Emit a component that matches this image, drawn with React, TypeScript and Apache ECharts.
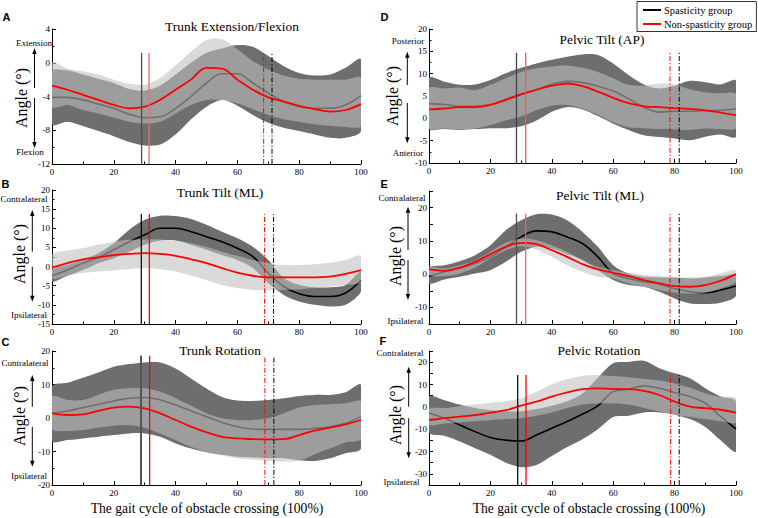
import React, { useEffect, useRef } from "react";
import * as echarts from "echarts";

// ---------------- data ----------------
const gaitPct = [0, 5, 10, 15, 20, 25, 30, 35, 40, 45, 50, 55, 60, 65, 70, 75, 80, 85, 90, 95, 100];

// A – Trunk Extension/Flexion
const A_spasMean = [-4.1, -4.1, -4.4, -4.9, -5.4, -6.1, -6.5, -6.4, -5.4, -4.0, -2.4, -1.3, -1.3, -2.4, -3.6, -4.6, -5.2, -5.4, -5.4, -5.0, -3.9];
const A_spasUp = [-1.0, -0.9, -1.4, -1.9, -2.4, -3.1, -3.3, -2.7, -1.4, 0.0, 1.2, 1.7, 2.1, 1.9, 0.8, -0.4, -1.2, -1.5, -1.4, -0.6, 0.4];
const A_spasLo = [-7.3, -7.0, -7.5, -8.1, -8.7, -9.4, -9.8, -9.7, -8.5, -6.7, -5.2, -4.4, -5.1, -6.2, -7.1, -7.7, -8.1, -8.5, -8.9, -8.9, -8.1];
const A_nonMean = [-2.7, -3.2, -3.8, -4.4, -5.0, -5.4, -5.2, -4.4, -3.2, -2.0, -0.6, -0.7, -2.0, -3.2, -4.1, -4.6, -5.1, -5.5, -5.8, -5.6, -4.9];
const A_nonUp = [0.0, -0.7, -1.0, -1.4, -2.0, -2.5, -2.6, -1.8, -0.3, 1.3, 2.7, 2.8, 1.6, 0.2, -0.8, -1.5, -1.9, -2.0, -2.0, -2.0, -1.8];
const A_nonLo = [-5.2, -5.0, -5.6, -6.0, -6.5, -7.0, -7.2, -7.0, -6.0, -5.0, -4.4, -4.4, -4.8, -5.5, -6.2, -6.7, -7.0, -7.3, -7.5, -7.6, -7.5];
const A_events = [29.0, 31.4, 68.5, 71.2];
const A_eventTop = 1.2;

// B – Trunk Tilt (ML)
const B_spasMean = [-2.4, -0.9, 0.9, 2.4, 4.4, 6.5, 8.3, 10.0, 10.0, 9.1, 7.8, 6.5, 4.8, 2.6, -1.7, -5.2, -7.1, -7.8, -7.8, -6.9, -3.5];
const B_spasUp = [-0.9, 0.4, 1.8, 3.5, 6.1, 9.6, 12.2, 13.3, 13.2, 12.4, 10.9, 9.1, 7.4, 5.2, 1.7, -3.0, -4.8, -5.4, -5.4, -4.8, -1.3];
const B_spasLo = [-3.9, -2.4, -0.9, 0.9, 2.2, 3.9, 5.7, 6.8, 6.8, 5.7, 4.4, 3.0, 1.7, -0.4, -4.3, -7.4, -9.1, -10.0, -10.4, -10.0, -6.5];
const B_nonMean = [-0.3, 0.9, 1.9, 2.4, 3.0, 3.3, 3.5, 3.3, 2.8, 1.9, 0.9, -0.4, -1.6, -2.4, -2.8, -2.8, -2.8, -2.8, -2.6, -1.9, -0.9];
const B_nonUp = [3.1, 4.2, 4.8, 5.7, 6.5, 7.0, 7.1, 7.1, 6.8, 6.1, 5.1, 3.9, 2.8, 1.7, 0.9, 0.4, 0.4, 0.6, 1.0, 1.7, 2.8];
const B_nonLo = [-3.0, -2.4, -1.7, -1.3, -1.0, -0.7, -0.4, -0.7, -1.3, -2.4, -3.5, -4.8, -5.6, -6.1, -6.2, -6.1, -5.9, -5.6, -5.2, -4.8, -3.9];
const B_events = [28.9, 31.5, 68.8, 71.7];
const B_eventTop = 13.7;

// C – Trunk Rotation
const C_spasMean = [1.4, 2.1, 3.1, 4.1, 5.1, 5.9, 6.1, 5.4, 3.9, 2.1, 0.4, -1.3, -2.6, -3.3, -3.4, -3.4, -3.4, -3.1, -2.6, -1.6, 0.4];
const C_spasUp = [9.4, 10.5, 12.0, 13.6, 15.3, 16.1, 16.6, 16.6, 14.8, 11.8, 8.8, 6.3, 5.2, 5.1, 5.4, 5.9, 6.6, 6.9, 6.9, 7.7, 9.9];
const C_spasLo = [-6.9, -6.6, -6.1, -5.6, -5.1, -4.6, -4.6, -5.6, -7.6, -9.1, -10.2, -11.0, -11.6, -11.8, -12.0, -12.0, -12.6, -12.8, -12.0, -10.5, -9.1];
const C_nonMean = [1.4, 0.9, 1.1, 2.1, 3.1, 3.4, 2.9, 1.4, -0.6, -2.6, -4.3, -5.6, -6.1, -6.3, -6.4, -6.3, -5.1, -3.8, -2.9, -1.9, -0.6];
const C_nonUp = [6.4, 5.4, 5.4, 6.9, 8.4, 8.9, 8.9, 7.9, 5.9, 3.7, 1.4, -0.1, -0.6, -0.6, -0.1, 1.4, 3.1, 3.9, 4.1, 4.4, 4.9];
const C_nonLo = [-3.3, -3.9, -3.6, -2.9, -2.3, -2.1, -2.9, -4.6, -6.6, -8.6, -10.2, -11.2, -12.0, -12.4, -12.8, -13.0, -12.8, -10.8, -9.1, -7.3, -6.3];
const C_events = [28.8, 31.6, 68.9, 71.8];
const C_eventTop = 18.6;

// D – Pelvic Tilt (AP)
const D_spasMean = [3.3, 3.1, 2.7, 2.7, 3.1, 4.0, 5.3, 6.4, 7.6, 8.3, 8.0, 7.2, 6.1, 4.4, 2.5, 1.4, 1.6, 1.6, 1.7, 1.8, 2.1];
const D_spasUp = [9.0, 8.2, 7.5, 7.6, 8.6, 10.1, 11.3, 12.3, 13.1, 13.8, 14.3, 14.2, 12.3, 9.7, 7.6, 6.7, 7.3, 8.4, 8.1, 7.6, 8.4];
const D_spasLo = [-2.3, -2.4, -2.6, -2.4, -2.2, -2.2, -1.8, -0.5, 1.5, 2.5, 2.0, 0.5, -1.2, -2.6, -3.8, -4.2, -4.5, -4.9, -4.1, -3.6, -4.1];
const D_nonMean = [2.0, 2.2, 2.5, 2.5, 3.0, 4.2, 5.4, 6.4, 7.3, 7.8, 7.2, 6.0, 4.6, 3.4, 2.7, 2.5, 2.3, 2.1, 1.8, 1.3, 0.7];
const D_nonUp = [6.7, 6.7, 6.9, 6.3, 7.5, 9.0, 10.4, 11.2, 11.6, 11.8, 11.3, 10.4, 9.0, 7.5, 7.3, 7.8, 7.6, 6.5, 5.8, 5.6, 5.4];
const D_nonLo = [-2.2, -2.3, -2.5, -2.3, -1.5, -0.5, 0.4, 1.8, 2.8, 3.0, 2.2, 0.8, -0.9, -2.0, -2.2, -2.4, -2.5, -2.6, -2.3, -2.4, -2.2];
const D_events = [28.5, 31.5, 78.5, 81.5];
const D_eventTop = 14.7;

// E – Pelvic Tilt (ML)
const E_spasMean = [-0.6, 0.7, 1.9, 3.2, 5.2, 8.2, 11.2, 13.0, 12.7, 11.2, 9.2, 5.2, 0.2, -1.3, -2.3, -3.0, -4.3, -5.3, -5.6, -4.8, -3.6];
const E_spasUp = [2.0, 2.7, 3.9, 5.7, 8.7, 13.2, 16.2, 18.0, 17.9, 16.2, 12.7, 8.2, 2.7, 0.2, -0.8, -1.0, -1.0, -1.3, -1.0, -0.6, -0.3];
const E_spasLo = [-2.8, -1.6, -0.8, 0.2, 1.2, 3.7, 6.7, 8.2, 7.7, 6.0, 4.2, 1.2, -1.8, -3.3, -3.8, -5.3, -7.3, -8.8, -9.0, -8.6, -6.6];
const E_nonMean = [1.5, 1.0, 1.9, 3.7, 6.0, 8.2, 9.4, 9.0, 7.2, 5.2, 3.0, 1.4, 0.4, -0.6, -1.8, -2.8, -3.6, -3.8, -3.3, -2.0, 0.0];
const E_nonUp = [2.2, 1.7, 2.7, 4.2, 6.7, 9.4, 10.7, 10.2, 8.7, 6.7, 4.2, 2.2, 1.2, 0.4, -0.3, -0.6, -1.0, -1.0, -0.8, 0.2, 1.2];
const E_nonLo = [-0.3, -0.6, 0.2, 2.0, 4.7, 7.2, 8.4, 7.4, 5.2, 2.7, 0.7, -0.8, -1.3, -2.8, -3.8, -4.8, -5.6, -5.8, -5.6, -4.3, -2.3];
const E_events = [28.5, 31.5, 78.5, 81.5];
const E_eventTop = 18.2;

// F – Pelvic Rotation
const F_spasMean = [-2.8, -5.1, -8.1, -11.1, -13.7, -14.9, -15.3, -12.6, -9.6, -6.6, -3.2, 0.4, 6.8, 7.9, 9.4, 8.3, 6.4, 4.6, 1.6, -4.4, -9.9];
const F_spasUp = [4.6, 3.0, 1.0, -0.5, -1.5, -2.0, -2.0, -1.0, 0.5, 2.5, 6.0, 13.0, 19.5, 20.1, 20.6, 17.3, 15.0, 12.8, 8.3, 4.6, 2.4];
const F_spasLo = [-11.5, -13.0, -15.5, -18.5, -21.5, -25.0, -27.0, -26.0, -22.0, -18.0, -14.5, -10.0, -4.5, -4.0, -2.5, -2.5, -3.5, -5.5, -9.0, -15.0, -20.0];
const F_nonMean = [-5.9, -5.1, -4.4, -3.7, -2.6, -1.5, 0.5, 2.3, 4.6, 6.5, 7.9, 8.3, 8.0, 7.9, 7.1, 5.3, 2.3, 0.1, -0.6, -1.3, -2.6];
const F_nonUp = [-1.0, -0.5, 0.3, 1.0, 1.8, 2.5, 3.8, 6.8, 10.0, 12.3, 13.9, 14.3, 13.8, 13.3, 12.5, 11.8, 10.5, 8.5, 6.0, 4.5, 3.8];
const F_nonLo = [-8.0, -7.5, -7.0, -6.5, -6.0, -5.5, -5.1, -4.0, -2.5, -0.5, 1.0, 1.5, 1.5, 1.0, -0.5, -2.0, -3.5, -4.5, -5.5, -6.5, -7.0];
const F_events = [28.9, 31.6, 78.7, 81.5];
const F_eventTop = 14.3;

const legendNames = ["Spasticity group", "Non-spasticity group"];
const xAxisTitle = "The gait cycle of obstacle crossing (100%)";

// ---------------- styling / layout ----------------
const SERIF = '"Liberation Serif", "Times New Roman", serif';
const SANS = '"Liberation Sans", Arial, sans-serif';
const DARK = "#6e6e6e";
const LIGHT = "rgba(191,191,191,0.58)";

const panels = [
  {
    id: "A", title: "Trunk Extension/Flexion", titlePos: [232, 26],
    grid: { left: 52, top: 29, width: 309, height: 135 },
    yMin: -12, yMax: 4, yInt: 4, labelEvery: 4,
    sm: A_spasMean, su: A_spasUp, sl: A_spasLo, nm: A_nonMean, nu: A_nonUp, nl: A_nonLo,
    ev: A_events, evTop: A_eventTop,
    blackSolid: "#505050", blackW: 1.3, redSolid: "#ee6a6a",
    letter: [2.5, 17], angle: [21, 98], arrowX: 34.5, arrowUp: [48, 88], arrowDown: [98, 148],
    upLabel: ["Extension", 34, 43], downLabel: ["Flexion", 30, 152],
  },
  {
    id: "B", title: "Trunk Tilt (ML)", titlePos: [220, 192],
    grid: { left: 52, top: 190, width: 309, height: 134 },
    yMin: -15, yMax: 20, yInt: 5, labelEvery: 5,
    sm: B_spasMean, su: B_spasUp, sl: B_spasLo, nm: B_nonMean, nu: B_nonUp, nl: B_nonLo,
    ev: B_events, evTop: B_eventTop,
    blackSolid: "#000", blackW: 1.2, redSolid: "#ff0000",
    letter: [1.5, 183.5], angle: [19, 254], arrowX: 32.3, arrowUp: [210, 251.7], arrowDown: [266.7, 301.7],
    upLabel: ["Contralateral", 24, 199.3], downLabel: ["Ipsilateral", 29, 314.5],
  },
  {
    id: "C", title: "Trunk Rotation", titlePos: [220, 350],
    grid: { left: 52, top: 351, width: 309, height: 134 },
    yMin: -20, yMax: 20, yInt: 10, labelEvery: 10,
    sm: C_spasMean, su: C_spasUp, sl: C_spasLo, nm: C_nonMean, nu: C_nonUp, nl: C_nonLo,
    ev: C_events, evTop: C_eventTop,
    blackSolid: "#555", blackW: 2, redSolid: "#ff0000",
    letter: [1.5, 341.5], angle: [19.3, 416], arrowX: 32.3, arrowUp: [375, 406.7], arrowDown: [426.7, 466.7],
    upLabel: ["Contralateral", 25, 363.3], downLabel: ["Ipsilateral", 29, 475.5],
  },
  {
    id: "D", title: "Pelvic Tilt (AP)", titlePos: [602, 39],
    grid: { left: 429, top: 29, width: 307, height: 134 },
    yMin: -10, yMax: 20, yInt: 5, labelEvery: 5,
    sm: D_spasMean, su: D_spasUp, sl: D_spasLo, nm: D_nonMean, nu: D_nonUp, nl: D_nonLo,
    ev: D_events, evTop: D_eventTop,
    blackSolid: "#444", blackW: 1.3, redSolid: "#f05a5a",
    letter: [380.5, 17], angle: [392, 96], arrowX: 407.3, arrowUp: [51.7, 85], arrowDown: [103, 143.3],
    upLabel: ["Posterior", 408, 40.7], downLabel: ["Anterior", 408, 153],
  },
  {
    id: "E", title: "Pelvic Tilt (ML)", titlePos: [600, 195],
    grid: { left: 429, top: 191, width: 307, height: 133 },
    yMin: -15, yMax: 25, yInt: 5, labelEvery: 10,
    sm: E_spasMean, su: E_spasUp, sl: E_spasLo, nm: E_nonMean, nu: E_nonUp, nl: E_nonLo,
    ev: E_events, evTop: E_eventTop,
    blackSolid: "#505050", blackW: 1.3, redSolid: "#f06464",
    letter: [380.5, 183.5], angle: [395, 256], arrowX: 408, arrowUp: [206.7, 250], arrowDown: [260, 300],
    upLabel: ["Contralateral", 402, 198.3], downLabel: ["Ipsilateral", 405.5, 320.7],
  },
  {
    id: "F", title: "Pelvic Rotation", titlePos: [599, 350],
    grid: { left: 429, top: 351, width: 307, height: 134 },
    yMin: -35, yMax: 25, yInt: 5, labelEvery: 10,
    sm: F_spasMean, su: F_spasUp, sl: F_spasLo, nm: F_nonMean, nu: F_nonUp, nl: F_nonLo,
    ev: F_events, evTop: F_eventTop,
    blackSolid: "#000", blackW: 1.2, redSolid: "#ff0000",
    letter: [379.5, 341], angle: [395, 415], arrowX: 408.7, arrowUp: [366.7, 406.7], arrowDown: [418.3, 458.3],
    upLabel: ["Contralateral", 400, 353.3], downLabel: ["Ipsilateral", 401.5, 482.3],
  },
];

function bandSeries(i: number, up: number[], lo: number[], fill: string, z: number) {
  return {
    type: "custom",
    xAxisIndex: i,
    yAxisIndex: i,
    z,
    silent: true,
    clip: true,
    data: gaitPct.map((x, k) => [x, lo[k], up[k]]),
    encode: { x: 0, y: [1, 2] },
    renderItem: (params: any, api: any) => {
      if (params.dataIndex !== 0) return null;
      const top = gaitPct.map((x, k) => api.coord([x, up[k]]));
      const bottom = gaitPct.map((x, k) => api.coord([x, lo[k]])).reverse();
      return {
        type: "polygon",
        shape: { points: top.concat(bottom), smooth: 0.3 },
        style: { fill, stroke: null },
      };
    },
  };
}

function lineSeries(i: number, name: string, ys: number[], color: string, width: number, z: number) {
  return {
    type: "line",
    name,
    xAxisIndex: i,
    yAxisIndex: i,
    z,
    smooth: 0.4,
    symbol: "none",
    silent: true,
    color,
    itemStyle: { color },
    lineStyle: { color, width },
    data: gaitPct.map((x, k) => [x, ys[k]]),
  };
}

function eventSeries(i: number, x: number, yBottom: number, yTop: number, color: string, width: number, dashed: boolean, z: number) {
  return {
    type: "line",
    name: "event" + i + "-" + x,
    xAxisIndex: i,
    yAxisIndex: i,
    z,
    symbol: "none",
    silent: true,
    lineStyle: { color, width, type: dashed ? [5, 2, 1.2, 2] : "solid" },
    data: [[x, yBottom], [x, yTop]],
  };
}

function buildOption() {
  const grid: any[] = [];
  const xAxis: any[] = [];
  const yAxis: any[] = [];
  const series: any[] = [];
  const graphic: any[] = [];

  panels.forEach((p, i) => {
    grid.push({ ...p.grid, containLabel: false, outerBoundsMode: "none" });
    const axisCommon = {
      axisLine: { show: true, onZero: false, lineStyle: { color: "#000", width: 1 } },
      axisTick: { show: true, inside: true, length: 4, lineStyle: { color: "#000", width: 1 } },
      minorTick: { show: true, splitNumber: 2, length: 2.5, lineStyle: { color: "#000", width: 1 } },
      splitLine: { show: false },
      minorSplitLine: { show: false },
    };
    xAxis.push({
      type: "value", gridIndex: i, min: 0, max: 100, interval: 20,
      ...axisCommon,
      axisLabel: { fontFamily: SERIF, fontSize: 9, color: "#000", margin: 3 },
    });
    yAxis.push({
      type: "value", gridIndex: i, min: p.yMin, max: p.yMax, interval: p.yInt,
      ...axisCommon,
      minorTick: { ...axisCommon.minorTick, show: p.labelEvery === p.yInt },
      axisLabel: {
        fontFamily: SERIF, fontSize: 9, color: "#000", margin: 2,
        formatter: (v: number) => (Math.round(v) % p.labelEvery === 0 ? String(v) : ""),
      },
    });

    series.push(bandSeries(i, p.su, p.sl, DARK, 1));
    series.push(lineSeries(i, legendNames[0], p.sm, "#000", 1.6, 2));
    series.push(bandSeries(i, p.nu, p.nl, LIGHT, 3));
    series.push(lineSeries(i, legendNames[1], p.nm, "#ff0000", 1.8, 4));
    series.push(eventSeries(i, p.ev[0], p.yMin, p.evTop, p.blackSolid, p.blackW, false, 5));
    series.push(eventSeries(i, p.ev[1], p.yMin, p.evTop, p.redSolid, 1.3, false, 5));
    series.push(eventSeries(i, p.ev[2], p.yMin, p.evTop, "#ff0000", 1, true, 5));
    series.push(eventSeries(i, p.ev[3], p.yMin, p.evTop, "#000", 1, true, 5));

    graphic.push({
      type: "text", x: p.letter[0], y: p.letter[1],
      style: { text: p.id, font: `bold 11px ${SANS}`, fill: "#000", textAlign: "left", textVerticalAlign: "middle" },
    });
    graphic.push({
      type: "text", x: p.titlePos[0], y: p.titlePos[1],
      style: { text: p.title, font: `13.4px ${SERIF}`, fill: "#000", textAlign: "center", textVerticalAlign: "middle" },
    });
    graphic.push({
      type: "text", x: p.angle[0], y: p.angle[1], rotation: Math.PI / 2,
      style: { text: "Angle (°)", font: `16px ${SERIF}`, fill: "#000", textAlign: "center", textVerticalAlign: "middle" },
    });
    const ax = p.arrowX;
    graphic.push({ type: "line", shape: { x1: ax, y1: p.arrowUp[0] + 4, x2: ax, y2: p.arrowUp[1] }, style: { stroke: "#000", lineWidth: 1 } });
    graphic.push({ type: "polygon", shape: { points: [[ax - 2.2, p.arrowUp[0] + 6], [ax, p.arrowUp[0]], [ax + 2.2, p.arrowUp[0] + 6]] }, style: { fill: "#000" } });
    graphic.push({ type: "line", shape: { x1: ax, y1: p.arrowDown[0], x2: ax, y2: p.arrowDown[1] - 4 }, style: { stroke: "#000", lineWidth: 1 } });
    graphic.push({ type: "polygon", shape: { points: [[ax - 2.2, p.arrowDown[1] - 6], [ax, p.arrowDown[1]], [ax + 2.2, p.arrowDown[1] - 6]] }, style: { fill: "#000" } });
    graphic.push({
      type: "text", x: p.upLabel[1] as number, y: p.upLabel[2] as number,
      style: { text: p.upLabel[0] as string, font: `9px ${SERIF}`, fill: "#000", textAlign: "center", textVerticalAlign: "middle" },
    });
    graphic.push({
      type: "text", x: p.downLabel[1] as number, y: p.downLabel[2] as number,
      style: { text: p.downLabel[0] as string, font: `9px ${SERIF}`, fill: "#000", textAlign: "center", textVerticalAlign: "middle" },
    });
  });

  graphic.push({
    type: "text", x: 207, y: 508,
    style: { text: xAxisTitle, font: `13.6px ${SERIF}`, fill: "#000", textAlign: "center", textVerticalAlign: "middle" },
  });
  graphic.push({
    type: "text", x: 589, y: 508,
    style: { text: xAxisTitle, font: `13.6px ${SERIF}`, fill: "#000", textAlign: "center", textVerticalAlign: "middle" },
  });

  return {
    animation: false,
    backgroundColor: "#fff",
    grid,
    xAxis,
    yAxis,
    series,
    graphic,
    legend: {
      data: legendNames,
      orient: "vertical",
      left: 637,
      top: 1.5,
      padding: [3, 4, 2, 6],
      itemGap: 3,
      itemWidth: 18,
      itemHeight: 2,
      icon: "rect",
      selectedMode: false,
      borderColor: "#000",
      borderWidth: 0.8,
      textStyle: { fontFamily: SERIF, fontSize: 10.5, color: "#000", padding: [0, 0, 0, -2] },
    },
  };
}

export default function App() {
  const ref = useRef<HTMLDivElement>(null);
  useEffect(() => {
    if (!ref.current) return;
    const chart = echarts.init(ref.current, null, { renderer: "svg" });
    chart.setOption(buildOption() as any);
    return () => chart.dispose();
  }, []);
  return (
    <div
      ref={ref}
      style={{ position: "fixed", left: 0, top: 0, width: 758, height: 518, background: "#fff" }}
    />
  );
}
